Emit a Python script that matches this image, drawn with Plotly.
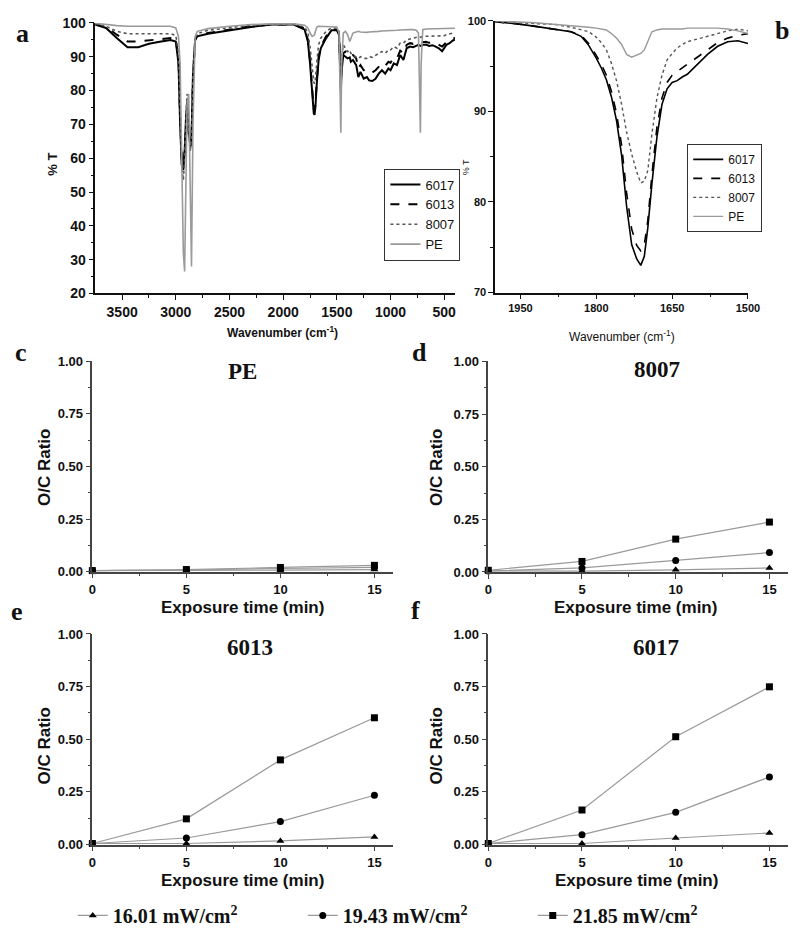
import plotly.graph_objects as go

# ---------------- DATA ----------------
# Panel a: full FTIR spectra (% T vs wavenumber)
wn_a = [3750, 3650, 3550, 3450, 3350, 3250, 3150, 3050, 3000, 2975, 2960, 2945, 2930, 2918, 2905,
        2895, 2880, 2866, 2854, 2840, 2820, 2800, 2700, 2500, 2300, 2100, 1900, 1800, 1770, 1750,
        1730, 1715, 1708, 1700, 1685, 1670, 1650, 1600, 1550, 1500, 1480, 1470, 1463, 1455, 1440,
        1420, 1400, 1380, 1370, 1350, 1320, 1300, 1280, 1250, 1220, 1200, 1170, 1140, 1110, 1080,
        1050, 1020, 1000, 970, 940, 910, 880, 850, 820, 790, 760, 740, 730, 722, 715,
        700, 670, 640, 610, 580, 550, 520, 500, 480, 450, 420, 400]
t_a_6017 = [99.5, 98.5, 95.5, 92.8, 92.8, 93.8, 94.4, 94.9, 94.5, 88, 70, 58, 56.5, 62, 72,
            76.5, 68, 64, 66, 85, 95, 96, 96.8, 97.8, 98.8, 99.5, 99.5, 98, 94.5, 88,
            79, 73.2, 72.8, 75, 83, 89, 92.5, 95.5, 97.8, 97.8, 96.5, 88, 80, 86, 90.5,
            90, 89.5, 89.8, 88.5, 89, 87.5, 84, 85.5, 83.5, 84, 83, 82.8, 83.5, 85, 86,
            85, 86.5, 86, 88, 87.5, 90.5, 89, 92.5, 93, 92.8, 93.3, 93.5, 93.3, 93.2, 93.2,
            93.5, 93.6, 93.2, 93.4, 93.0, 92.5, 91.6, 92.5, 93.5, 94, 94.8, 95]
t_a_6013 = [99.5, 98.8, 96.5, 94.5, 94.5, 94.8, 95.2, 95.5, 95, 89, 72, 60, 58, 62, 70,
            75, 67, 63, 65, 84, 95, 96.3, 97, 98, 99, 99.5, 99.5, 98.3, 95, 89,
            80, 74.5, 74, 76, 84, 90, 93, 96, 98, 98, 97, 89, 81, 87, 91,
            91.5, 91, 91.2, 90.2, 90.5, 89.5, 86.5, 87.5, 86, 86.2, 85.5, 85.3, 86, 87, 88,
            87.3, 88.5, 88.2, 89.8, 89.5, 91.8, 91, 93.5, 94, 93.8, 94.2, 94.3, 94.2, 94, 94,
            94.3, 94.4, 94.1, 94.3, 94, 93.6, 93, 93.6, 94.3, 94.8, 95.4, 95.6]
t_a_8007 = [99.8, 99, 97.5, 96.8, 96.8, 96.8, 96.9, 96.8, 96.3, 91, 75, 58, 53.5, 60, 72,
            79, 70, 62, 66, 86, 95.5, 96.8, 97.8, 98.5, 99.3, 99.6, 99.6, 98.8, 97, 93,
            86, 82.5, 82, 83.5, 89, 93.5, 95.5, 97.5, 98.5, 98.5, 97.5, 92, 86, 90, 93.5,
            92.5, 91.5, 92, 91, 90.5, 90, 89.5, 90, 89.5, 89.5, 90, 89.8, 90.5, 91, 91.5,
            91, 92, 92, 93, 92.5, 94, 94, 95, 95.3, 95.5, 95.8, 95.9, 95.8, 95.7, 95.8,
            96, 96, 96, 96.2, 96.1, 96, 96, 96.2, 96.5, 96.8, 97, 97]
t_a_pe = [99.9, 99.5, 99.2, 99, 99, 99, 99, 99, 98.5, 96, 88, 60, 32, 26.5, 55,
          76, 79, 50, 28, 70, 96, 97.5, 98.3, 99, 99.5, 99.7, 99.7, 99.3, 98.5, 97,
          96, 96.3, 96.5, 97.5, 98.8, 99, 99, 99, 99, 98.8, 97, 80, 67.5, 88, 97,
          97.5, 96.5, 94.5, 95.5, 97, 97.3, 97.5, 97.3, 97.2, 97.2, 97.3, 97.3, 97.5, 97.5, 97.6,
          97.6, 97.7, 97.7, 97.8, 97.8, 97.9, 98, 98, 98, 98, 97.8, 97, 85, 67.5, 88,
          98, 98.2, 98.2, 98.3, 98.3, 98.3, 98.3, 98.4, 98.2, 98.3, 98.4, 98.4]

# Panel b: carbonyl region
wn_b = [2000, 1960, 1920, 1880, 1850, 1830, 1815, 1800, 1790, 1780, 1770, 1760, 1750, 1740, 1730,
        1720, 1712, 1705, 1698, 1690, 1680, 1670, 1660, 1650, 1640, 1630, 1620, 1600, 1580, 1560,
        1540, 1520, 1500]
t_b_6017 = [99.9, 99.7, 99.4, 99.1, 98.8, 98.3, 97.3, 95.9, 94.8, 93.5, 91.6, 89, 85.2, 79.5, 75.3,
            73.7, 73, 74, 77.2, 82, 87.2, 90.8, 92.5, 93.2, 93.4, 93.8, 94.1, 95.2, 96.3, 97.2,
            97.7, 97.8, 97.5]
t_b_6013 = [99.9, 99.7, 99.4, 99.1, 98.8, 98.4, 97.5, 96.2, 95.2, 94, 92.2, 89.8, 86.3, 81, 77,
            75.2, 74.6, 75.3, 78, 83, 88.3, 91.5, 93.2, 94, 94.4, 94.8, 95.2, 96, 96.9, 97.6,
            98.1, 98.4, 98.6]
t_b_8007 = [99.9, 99.8, 99.7, 99.6, 99.3, 99, 98.8, 98.2, 97.6, 96.8, 95.3, 93.4, 90.8, 87.7, 85.3,
            83.3, 82.1, 82.3, 83.5, 87.5, 91.5, 94, 95.7, 96.4, 97, 97.4, 97.7, 98, 98.3, 98.6,
            98.9, 99.1, 98.9]
t_b_pe = [100, 99.9, 99.8, 99.6, 99.5, 99.4, 99.3, 99.2, 99.1, 99, 98.6, 98.1, 97.4, 96.3, 96,
          96.2, 96.4, 96.8, 97.8, 98.8, 99, 99.1, 99.1, 99.1, 99.1, 99.1, 99.2, 99.2, 99.2, 99.2,
          99.1, 98.9, 98.6]

# Panels c-f: O/C ratio vs exposure time
times = [0, 5, 10, 15]
intensity_labels = ["16.01 mW/cm<sup>2</sup>", "19.43 mW/cm<sup>2</sup>", "21.85 mW/cm<sup>2</sup>"]
oc_pe = [[0.005, 0.005, 0.007, 0.010], [0.005, 0.008, 0.015, 0.020], [0.005, 0.010, 0.020, 0.030]]
oc_8007 = [[0.005, 0.004, 0.010, 0.019], [0.005, 0.019, 0.055, 0.092], [0.008, 0.050, 0.156, 0.237]]
oc_6013 = [[0.005, 0.005, 0.017, 0.036], [0.005, 0.031, 0.109, 0.234], [0.005, 0.122, 0.402, 0.602]]
oc_6017 = [[0.005, 0.005, 0.031, 0.055], [0.005, 0.047, 0.153, 0.321], [0.005, 0.164, 0.512, 0.749]]
sample_names = ["PE", "8007", "6013", "6017"]

# ---------------- FIGURE ----------------
SANS = "Liberation Sans, Arial, sans-serif"
SERIF = "Liberation Serif, Times New Roman, serif"
NARROW = "Liberation Sans Narrow, Arial Narrow, Liberation Sans, sans-serif"

W, H = 800, 940
def X(px):
    return px / W
def Y(py):
    return 1 - py / H

fig = go.Figure()

spec_names = ["6017", "6013", "8007", "PE"]
spec_a = [t_a_6017, t_a_6013, t_a_8007, t_a_pe]
spec_b = [t_b_6017, t_b_6013, t_b_8007, t_b_pe]
styles_a = [dict(color="#000000", width=2), dict(color="#000000", width=2, dash="dash"),
            dict(color="#555555", width=1.6, dash="dot"), dict(color="#9a9a9a", width=1.6)]
styles_b = [dict(color="#000000", width=1.6), dict(color="#000000", width=1.6, dash="dash"),
            dict(color="#555555", width=1.4, dash="dot"), dict(color="#9a9a9a", width=1.4)]

for n, ys, st in zip(spec_names, spec_a, styles_a):
    fig.add_trace(go.Scatter(x=wn_a, y=ys, mode="lines", name=n, line=st,
                             xaxis="x", yaxis="y", legend="legend"))
for n, ys, st in zip(spec_names, spec_b, styles_b):
    fig.add_trace(go.Scatter(x=wn_b, y=ys, mode="lines", name=n, line=st,
                             xaxis="x2", yaxis="y2", legend="legend2"))

symbols = ["triangle-up", "circle", "square"]
panel_data = [oc_pe, oc_8007, oc_6013, oc_6017]
for p, data in enumerate(panel_data):
    for k, vals in enumerate(data):
        fig.add_trace(go.Scatter(
            x=times, y=vals, mode="lines+markers", name=intensity_labels[k],
            line=dict(color="#9a9a9a", width=1.2),
            marker=dict(symbol=symbols[k], size=7, color="#000000"),
            xaxis="x%d" % (p + 3), yaxis="y%d" % (p + 3),
            legend="legend3", showlegend=(p == 3), cliponaxis=False))

def ax(domain, rng, tickfont, **kw):
    d = dict(domain=domain, range=rng, showline=True, linecolor="#111111", linewidth=1.5,
             ticks="outside", ticklen=5, tickwidth=1.2, tickcolor="#111111",
             showgrid=False, zeroline=False, tickfont=tickfont, mirror=False)
    d.update(kw)
    return d

fa = dict(family=SANS, size=14, color="#111111", weight="bold")
fb = dict(family=NARROW, size=11, color="#111111", weight="bold")
fc = dict(family=SANS, size=13, color="#111111", weight="bold")

layout = dict(
    width=W, height=H, margin=dict(l=0, r=0, t=0, b=0),
    paper_bgcolor="white", plot_bgcolor="white",
    xaxis=ax([X(85), X(452)], [3750, 400], fa, anchor="y",
             tickvals=[3500, 3000, 2500, 2000, 1500, 1000, 500],
             minor=dict(tickvals=[3250, 2750, 2250, 1750, 1250, 750], ticks="outside", ticklen=3,
                        tickcolor="#111111")),
    yaxis=ax([Y(283), Y(8)], [20, 100], fa, anchor="x", tickvals=list(range(20, 101, 10)),
             minor=dict(tickvals=list(range(25, 100, 10)), ticks="outside", ticklen=3,
                        tickcolor="#111111")),
    xaxis2=ax([X(493), X(751)], [2000, 1500], fb, anchor="y2",
              tickvals=[1950, 1800, 1650, 1500],
              minor=dict(tickvals=[1875, 1725, 1575], ticks="outside", ticklen=3,
                         tickcolor="#111111")),
    yaxis2=ax([Y(282), Y(6)], [70, 100], fb, anchor="x2", tickvals=[70, 80, 90, 100],
              minor=dict(tickvals=[75, 85, 95], ticks="outside", ticklen=3,
                         tickcolor="#111111")),
    legend=dict(x=X(380), y=Y(156), xanchor="left", yanchor="top", bgcolor="white",
                bordercolor="#333333", borderwidth=1, tracegroupgap=0,
                font=dict(family=SANS, size=13, color="#111111")),
    legend2=dict(x=X(689), y=Y(131), xanchor="left", yanchor="top", bgcolor="white",
                 bordercolor="#333333", borderwidth=1, tracegroupgap=0,
                 font=dict(family=NARROW, size=12, color="#111111")),
    legend3=dict(x=X(62), y=Y(915), xanchor="left", yanchor="middle", orientation="h",
                 bgcolor="rgba(0,0,0,0)", entrywidth=185, entrywidthmode="pixels",
                 font=dict(family=SERIF, size=20, color="#111111", weight="bold")),
)

# panels c-f axes: (left px, right px, top px(1.00), bottom px(0.00))
boxes = [(82, 389, 351.7, 565.7), (486, 792, 352, 566), (82, 389, 629, 843), (486, 792, 629, 843)]
for i, (l, r, t, b) in enumerate(boxes):
    n = i + 3
    layout["xaxis%d" % n] = ax([X(l), X(r)], [0, 16], fc, anchor="y%d" % n,
                               tickvals=times, linecolor="#444444", tickcolor="#444444",
                               minor=dict(tickvals=[2.5, 7.5, 12.5], ticks="outside", ticklen=3,
                                          tickcolor="#444444"))
    layout["yaxis%d" % n] = ax([Y(b), Y(t)], [0, 1.0], fc, anchor="x%d" % n,
                               tickvals=[0, 0.25, 0.5, 0.75, 1.0], tickformat=".2f",
                               linecolor="#444444", tickcolor="#444444",
                               minor=dict(tickvals=[0.125, 0.375, 0.625, 0.875], ticks="outside",
                                          ticklen=3, tickcolor="#444444"))

fig.update_layout(**layout)

ann = []
def A(text, px, py, font, angle=0, xanchor="center", yanchor="middle"):
    ann.append(dict(text=text, x=X(px), y=Y(py), xref="paper", yref="paper", showarrow=False,
                    font=font, textangle=angle, xanchor=xanchor, yanchor=yanchor))

letter_font = dict(family=SERIF, size=26, color="#111111", weight="bold")
A("a", 11, 19, letter_font)
A("b", 786, 16, letter_font)
A("c", 9, 343, letter_font)
A("d", 416, 343, letter_font)
A("e", 5, 606, letter_font)
A("f", 412, 605, letter_font)

title_font = dict(family=SERIF, size=23, color="#111111", weight="bold")
A(sample_names[0], 235, 362, title_font)
A(sample_names[1], 658, 360, title_font)
A(sample_names[2], 243, 643, title_font)
A(sample_names[3], 657, 643, title_font)

axis_font = dict(family=SANS, size=17, color="#111111", weight="bold")
for (xc, yc) in [(33, 460), (433, 460), (33, 743), (433, 743)]:
    A("O/C Ratio", xc, yc, axis_font, angle=-90)
for (xc, yc) in [(235, 602), (636, 602), (235, 880), (637, 880)]:
    A("Exposure time (min)", xc, yc, axis_font)

A("% T", 41, 152, dict(family=SANS, size=13, color="#111111", weight="bold"), angle=-90)
A("Wavenumber (cm<sup>-1</sup>)", 276, 322, dict(family=SANS, size=12, color="#111111", weight="bold"))
A("Wavenumber (cm<sup>-1</sup>)", 622, 326, dict(family=NARROW, size=12, color="#111111"))
A("% T", 463, 155, dict(family=SANS, size=9, color="#111111"), angle=-90)

fig.update_layout(annotations=ann)
fig.write_html("out.html")
